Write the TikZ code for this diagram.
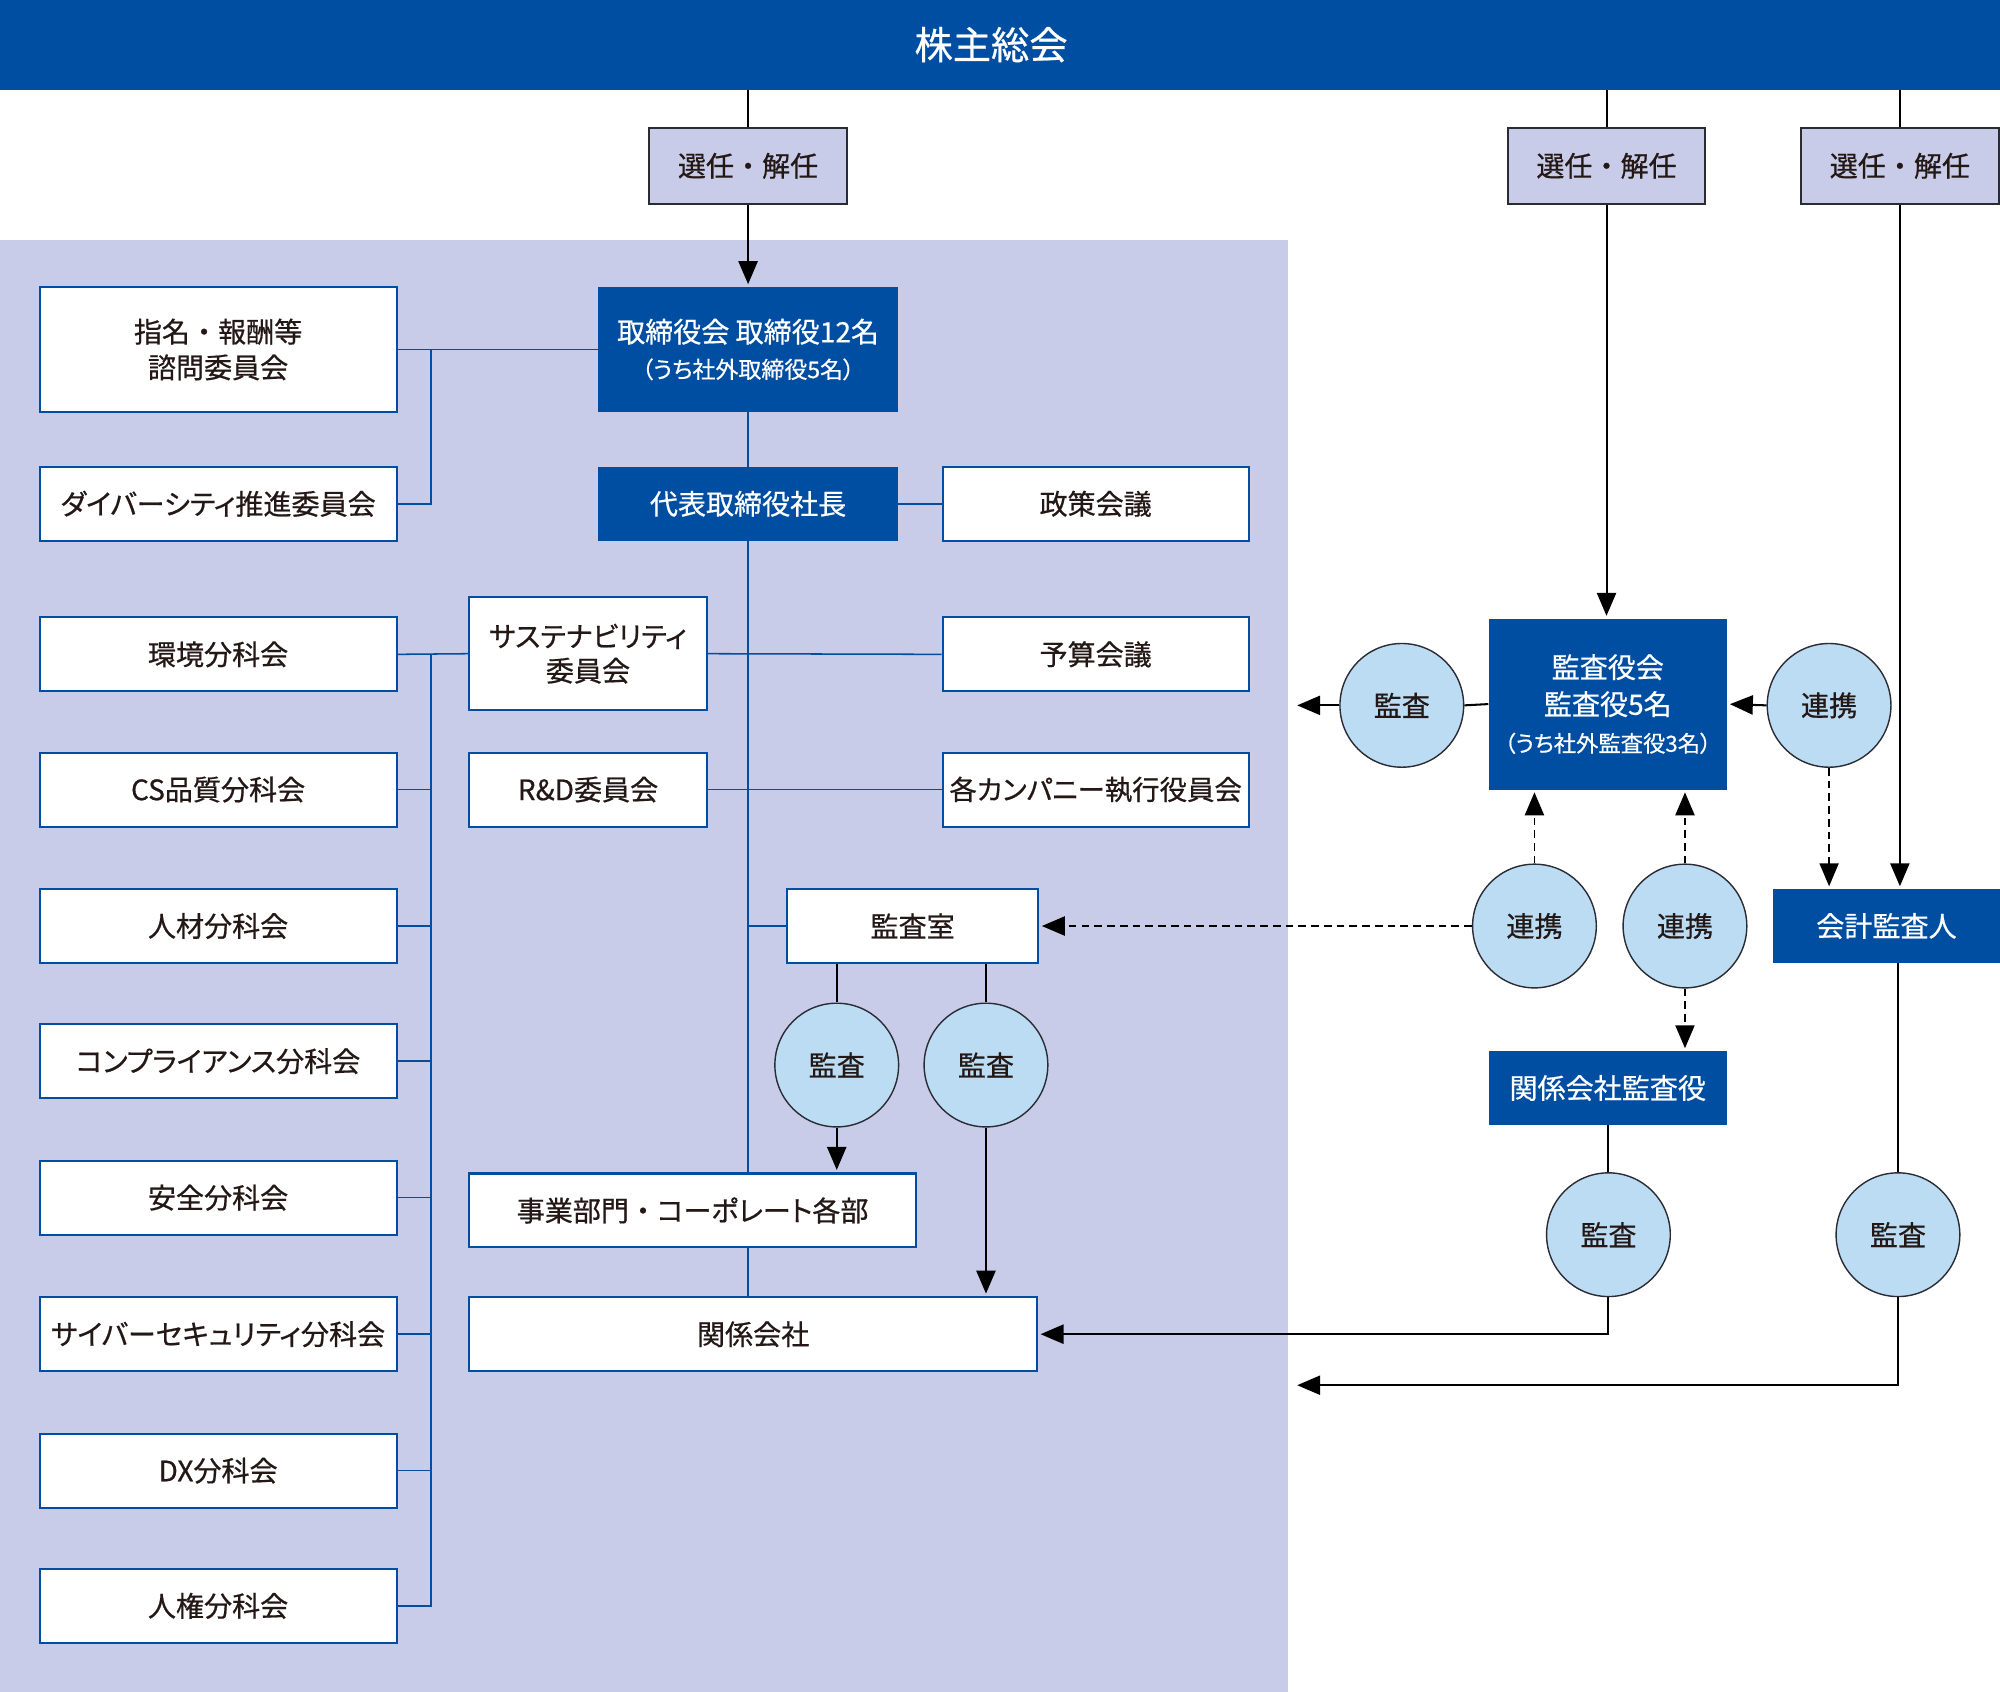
\documentclass[tikz,border=0pt]{standalone}
\usepackage{fontspec}
\setmainfont{Noto Sans CJK JP}[RawFeature=+palt, FakeBold=0.6]
\newfontfamily\nopalt{Noto Sans CJK JP}[FakeBold=0.6]
\usetikzlibrary{arrows.meta}
\definecolor{myblue}{HTML}{004EA2}
\definecolor{lpurple}{HTML}{C8CCE9}
\definecolor{lblue}{HTML}{BBDCF3}
\definecolor{txt}{HTML}{231815}
\definecolor{selborder}{HTML}{2B2B33}
\newcommand\fsz[2]{\fontsize{#1}{#2}\selectfont}
\begin{document}
\begin{tikzpicture}[x=1pt,y=-1pt,
  wbox/.style={draw=myblue, line width=1.6pt, fill=white, text=txt, inner sep=0pt, align=center, font=\fsz{22}{28}},
  bbox/.style={fill=myblue, text=white, inner sep=0pt, align=center, font=\fsz{22}{28}},
  sbox/.style={draw=selborder, line width=1.6pt, fill=lpurple, text=txt, inner sep=0pt, align=center, font=\nopalt\fsz{22}{28}, minimum width=155pt, minimum height=60pt},
  bunka/.style={wbox, minimum width=280pt, minimum height=58pt},
  circ/.style={circle, fill=lblue, draw=selborder, line width=1.1pt, minimum size=97pt, inner sep=0pt, text=txt, font=\fsz{22}{28}},
  bl/.style={draw=myblue, line width=1.2pt},
  kl/.style={draw=black, line width=1.6pt},
  dl/.style={draw=black, line width=1.4pt, dash pattern=on 6pt off 4pt},
  arr/.style={-{Triangle[length=18pt,width=15pt]}, shorten >=2pt},
]
\useasboundingbox (0,0) rectangle (1568,1326.5);
% background regions
\fill[lpurple] (0,188) rectangle (1010,1326.5);
\node[fill=myblue, minimum width=1568pt, minimum height=70pt, inner sep=0pt, anchor=north west] (banner) at (0,0) {};
\node[text=white, font=\fsz{30}{36}] (bantext) at (777,35) {株主総会};

% selection boxes
\node[sbox] (sel1) at (586.5,130) {選任・解任};
\node[sbox] (sel2) at (1259.5,130) {選任・解任};
\node[sbox] (sel3) at (1489.5,130) {選任・解任};

% board side
\node[bbox, minimum width=235pt, minimum height=98pt] (tori) at (586.5,274) {取締役会 取締役12名\\[0pt]{\fsz{18}{22}（うち社外取締役5名）}};
\node[wbox, minimum width=280pt, minimum height=98pt, font=\nopalt\fsz{22}{28}] (shimei) at (171,274) {指名・報酬等\\諮問委員会};
\node[bunka] (div) at (171,395) {ダイバーシティ推進委員会};
\node[bbox, minimum width=235pt, minimum height=58pt] (daihyo) at (586.5,395) {代表取締役社長};
\node[wbox, minimum width=240pt, minimum height=58pt] (seisaku) at (859,395) {政策会議};
\node[wbox, minimum width=186pt, minimum height=89pt, font=\fsz{22}{27}] (sust) at (461,512.5) {サステナビリティ\\委員会};
\node[wbox, minimum width=240pt, minimum height=58pt] (yosan) at (859,513) {予算会議};
\node[wbox, minimum width=186pt, minimum height=58pt] (rd) at (461,619) {R\&D委員会};
\node[wbox, minimum width=240pt, minimum height=58pt, font=\fsz{21.5}{26}] (kaku) at (859,619) {各カンパニー執行役員会};

\node[bunka] (kankyo) at (171,513) {環境分科会};
\node[bunka] (cs) at (171,619) {CS品質分科会};
\node[bunka] (jinzai) at (171,726) {人材分科会};
\node[bunka] (comp) at (171,832) {コンプライアンス分科会};
\node[bunka] (anzen) at (171,939) {安全分科会};
\node[bunka] (cyber) at (171,1046) {サイバーセキュリティ分科会};
\node[bunka] (dx) at (171,1153) {DX分科会};
\node[bunka] (jinken) at (171,1259) {人権分科会};

\node[wbox, minimum width=197pt, minimum height=58pt] (kshitsu) at (715.5,726) {監査室};
\node[circ] (c1) at (656,835) {監査};
\node[circ] (c2) at (773,835) {監査};
\node[wbox, minimum width=350pt, minimum height=58pt] (jigyo) at (543,949) {事業部門{\nopalt ・}コーポレート各部};
\node[wbox, minimum width=445pt, minimum height=58pt] (kankei) at (590.5,1046) {関係会社};

% auditor side
\node[bbox, minimum width=187pt, minimum height=134pt] (kyaku) at (1260.5,552) {監査役会\\[1pt]監査役5名\\[1pt]{\fsz{17.5}{21}（うち社外監査役3名）}};
\node[circ] (cL) at (1099,553) {監査};
\node[circ] (cR) at (1434,553) {連携};
\node[bbox, minimum width=178pt, minimum height=58pt] (kaikei) at (1479,726) {会計監査人};
\node[circ] (r1) at (1203,726) {連携};
\node[circ] (r2) at (1321,726) {連携};
\node[bbox, minimum width=187pt, minimum height=58pt] (kkk) at (1260.5,853) {関係会社監査役};
\node[circ] (a1) at (1261,968) {監査};
\node[circ] (a2) at (1488,968) {監査};

\coordinate (J1) at (338,274);
\coordinate (J2) at (338,513);
\coordinate (outL1) at (1015,553);
\coordinate (outL2) at (1015,1086);

% selection connectors
\draw[kl] (banner.south -| sel1.north) -- (sel1.north);
\draw[kl] (banner.south -| sel2.north) -- (sel2.north);
\draw[kl] (banner.south -| sel3.north) -- (sel3.north);
\draw[kl, arr] (sel1.south) -- (tori.north);
\draw[kl, arr] (sel2.south) -- (sel2.south |- kyaku.north);
\draw[kl, arr] (sel3.south) -- (sel3.south |- kaikei.north);

% blue org connectors
\draw[bl] (shimei.east) -- (tori.west);
\draw[bl] (J1) |- (div.east);
\draw[bl] (tori.south) -- (daihyo.north);
\draw[bl] (daihyo.east) -- (seisaku.west);
\draw[bl] (daihyo.south) -- (daihyo.south |- jigyo.north);
\draw[bl] (daihyo.south |- jigyo.south) -- (daihyo.south |- kankei.north);
\draw[bl] (kankyo.east) -- (sust.west);
\draw[bl] (sust.east) -- (yosan.west);
\draw[bl] (rd.east) -- (kaku.west);
\draw[bl] (kshitsu.west -| daihyo.south) -- (kshitsu.west);
\draw[bl] (J2) |- (jinken.east);
\foreach \n in {cs,jinzai,comp,anzen,cyber,dx}{
  \draw[bl] (\n.east) -- (\n.east -| J2);
}

% audit office connectors
\draw[kl] (kshitsu.south -| c1) -- (c1.north);
\draw[kl, arr] (c1.south) -- (c1.south |- jigyo.north);
\draw[kl] (kshitsu.south -| c2) -- (c2.north);
\draw[kl, arr] (c2.south) -- (c2.south |- kankei.north);

% auditors
\draw[kl] (kyaku.west) -- (cL.east);
\draw[kl, arr] (cL.west) -- (outL1);
\draw[kl, arr] (cR.west) -- (kyaku.east);
\draw[dl, arr] (cR.south) -- (cR.south |- kaikei.north);
\draw[dl, arr] (r1.north) -- (r1.north |- kyaku.south);
\draw[dl, arr] (r1.west) -- (kshitsu.east);
\draw[dl, arr] (r2.north) -- (r2.north |- kyaku.south);
\draw[dl, arr] (r2.south) -- (r2.south |- kkk.north);
\draw[kl] (kkk.south -| a1) -- (a1.north);
\draw[kl, arr] (a1.south) |- (kankei.east);
\draw[kl] (kaikei.south -| a2) -- (a2.north);
\draw[kl, arr] (a2.south) |- (outL2);
\end{tikzpicture}
\end{document}
